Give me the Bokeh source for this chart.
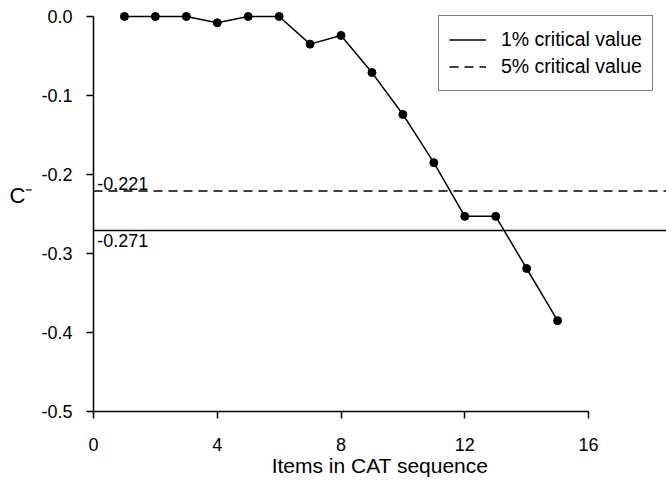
from bokeh.plotting import figure
from bokeh.models import FixedTicker, NumeralTickFormatter, Range1d, Legend, LegendItem, ColumnDataSource
from bokeh.embed import file_html
from bokeh.resources import INLINE
from bokeh.core.properties import value

# data
items = [1, 2, 3, 4, 5, 6, 7, 8, 9, 10, 11, 12, 13, 14, 15]
c_minus = [0.0, 0.0, 0.0, -0.008, 0.0, 0.0, -0.035, -0.024, -0.071, -0.124,
           -0.185, -0.253, -0.253, -0.319, -0.385]
crit_1pct = -0.271
crit_5pct = -0.221
crit_labels = ["-0.271", "-0.221"]
x_ticks = [0, 4, 8, 12, 16]
y_ticks = [0.0, -0.1, -0.2, -0.3, -0.4, -0.5]

FONT = "Liberation Sans"
X_LO, X_HI = 0, 18.52

p = figure(output_backend="svg", toolbar_location=None,
           frame_width=573, frame_height=403,
           min_border_left=93, min_border_right=0, min_border_top=8, min_border_bottom=74,
           x_range=Range1d(X_LO, X_HI), y_range=Range1d(-0.5, 0.0101))

p.outline_line_color = None
p.xgrid.visible = False
p.ygrid.visible = False

# axes
p.xaxis.ticker = FixedTicker(ticks=x_ticks)
p.yaxis.ticker = FixedTicker(ticks=y_ticks)
p.yaxis.formatter = NumeralTickFormatter(format="0.0")
p.xaxis.bounds = (0, 16)
p.yaxis.bounds = (-0.5, 0)
for ax in (p.xaxis, p.yaxis):
    ax.axis_line_color = "black"
    ax.axis_line_width = 1.5
    ax.major_tick_line_color = "black"
    ax.major_tick_line_width = 1.5
    ax.major_tick_in = 0
    ax.major_tick_out = 7
    ax.minor_tick_line_color = None
    ax.major_label_text_font = FONT
    ax.major_label_text_font_size = "18px"
    ax.major_label_text_color = "black"
    ax.axis_label_text_font = FONT
    ax.axis_label_text_font_style = "normal"
    ax.axis_label_text_color = "black"

p.xaxis.axis_label = "Items in CAT sequence"
p.xaxis.axis_label_text_font_size = "21px"
p.xaxis.major_label_standoff = 19
p.xaxis.axis_label_standoff = 0

p.yaxis.axis_label = "C\u207b\n "
p.yaxis.axis_label_text_font_size = "22px"
p.yaxis.axis_label_orientation = "horizontal"
p.yaxis.major_label_standoff = 14
p.yaxis.axis_label_standoff = 6

# critical value lines (span the full plot width)
r1 = p.line([X_LO, X_HI], [crit_1pct, crit_1pct], line_color="black", line_width=1.5)
r5 = p.line([X_LO, X_HI], [crit_5pct, crit_5pct], line_color="black", line_width=1.5,
            line_dash="9 6")

# labels for critical values
lab_src = ColumnDataSource(dict(x=[0.12, 0.12], y=[crit_1pct, crit_5pct], t=crit_labels,
                                b=["top", "bottom"], yo=[3, -1]))
p.text(x="x", y="y", text="t", source=lab_src, text_font=value(FONT),
       text_font_size="18px", text_color="black", text_baseline="b", y_offset="yo")

# data series
p.line(items, c_minus, line_color="black", line_width=1.5)
p.scatter(items, c_minus, size=8, fill_color="black", line_color="black")

legend = Legend(items=[LegendItem(label="1% critical value", renderers=[r1]),
                       LegendItem(label="5% critical value", renderers=[r5])],
                location=(345, 320))
legend.border_line_color = "black"
legend.border_line_width = 1
legend.label_text_font = FONT
legend.label_text_font_size = "19.5px"
legend.label_text_color = "black"
legend.label_height = 27
legend.glyph_height = 27
legend.glyph_width = 37
legend.label_standoff = 15
legend.padding = 10
legend.spacing = 0
legend.margin = 0
legend.background_fill_color = "white"
p.add_layout(legend)

open("out.html", "w").write(file_html(p, INLINE))
